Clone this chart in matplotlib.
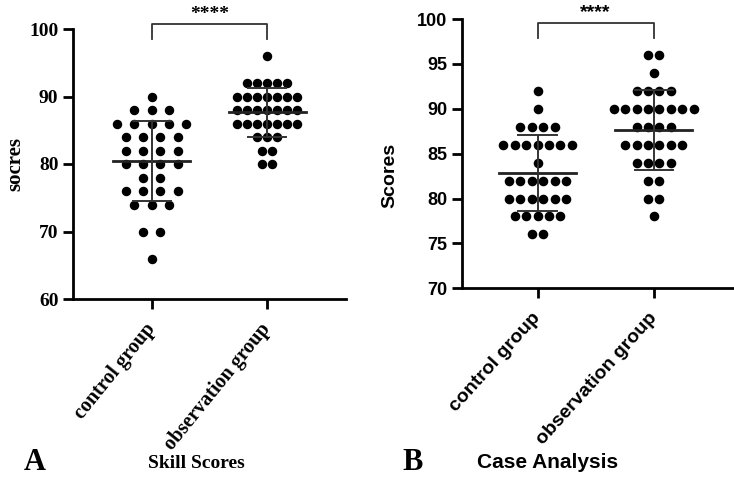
import matplotlib
matplotlib.use("Agg")
import matplotlib.pyplot as plt
import numpy as np

# Skill Scores (panel A)
skill_control = [90, 88, 88, 88, 86, 86, 86, 86, 86, 84, 84, 84, 84,
                 82, 82, 82, 82, 80, 80, 80, 80, 78, 78, 76, 76, 76, 76,
                 74, 74, 74, 70, 70, 66]
skill_observation = [96, 92, 92, 92, 92, 92, 90, 90, 90, 90, 90, 90, 90,
                     88, 88, 88, 88, 88, 88, 88, 86, 86, 86, 86, 86, 86, 86,
                     84, 84, 84, 82, 82, 80, 80]

# Case Analysis (panel B)
case_control = [92, 90, 88, 88, 88, 88, 86, 86, 86, 86, 86, 86, 86, 84,
                82, 82, 82, 82, 82, 82, 80, 80, 80, 80, 80, 80,
                78, 78, 78, 78, 78, 76, 76]
case_observation = [96, 96, 94, 92, 92, 92, 92, 90, 90, 90, 90, 90, 90, 90, 90,
                    88, 88, 88, 88, 86, 86, 86, 86, 86, 86, 84, 84, 84, 84,
                    82, 82, 80, 80, 78]

groups = ["control group", "observation group"]

SERIF = ["Liberation Serif", "DejaVu Serif"]
SANS = ["Liberation Sans", "DejaVu Sans"]


def swarm(ax, xc, values, step, ms):
    values = np.asarray(values)
    for v in np.unique(values):
        n = int(np.sum(values == v))
        xs = xc + (np.arange(n) - (n - 1) / 2) * step
        ax.plot(xs, [v] * n, "o", color="black", ms=ms, mec="black", zorder=2)
    m = values.mean()
    sd = values.std(ddof=1)
    ax.plot([xc - 0.33, xc + 0.33], [m, m], color="#222222", lw=2.0, zorder=3)
    ax.plot([xc, xc], [m - sd, m + sd], color="#333333", lw=1.4, zorder=3)
    for y in (m - sd, m + sd):
        ax.plot([xc - 0.165, xc + 0.165], [y, y], color="#333333", lw=1.4, zorder=3)


def style_axes(ax, fam, ylim, yticks, ylabel, xlim, ysize, xsize, lsize, rot):
    ax.set_xlim(*xlim)
    ax.set_ylim(*ylim)
    ax.set_yticks(yticks)
    ax.set_xticks([0, 1])
    for s in ("top", "right"):
        ax.spines[s].set_visible(False)
    for s in ("left", "bottom"):
        ax.spines[s].set_linewidth(2.0)
    ax.tick_params(width=2.0, length=7, direction="out")
    for lab in ax.get_yticklabels():
        lab.set_family(fam)
        lab.set_fontweight("bold")
        lab.set_fontsize(ysize)
    ax.set_xticklabels(groups, rotation=rot, ha="right", va="center",
                       rotation_mode="anchor", family=fam, fontweight="bold",
                       fontsize=xsize)
    ax.tick_params(axis="x", pad=12)
    ax.set_ylabel(ylabel, family=fam, fontweight="bold", fontsize=lsize)


def bracket(ax, y_top, y_leg, fam):
    ax.plot([0, 0, 1, 1], [y_leg, y_top, y_top, y_leg], color="#333333",
            lw=1.3, clip_on=False)
    ax.annotate("****", xy=(0.5, y_top), xytext=(0, 1), textcoords="offset points",
                ha="center", va="bottom", family=fam, fontweight="bold",
                fontsize=14, annotation_clip=False)


fig = plt.figure(figsize=(7.34, 4.84), dpi=100)

# Panel A
axA = fig.add_axes([73 / 734, (484 - 299) / 484, 273 / 734, 270 / 484])
swarm(axA, 0, skill_control, 0.149, 5.8)
swarm(axA, 1, skill_observation, 0.086, 5.8)
style_axes(axA, SERIF, (60, 100), [60, 70, 80, 90, 100], "socres", (-0.68, 1.68),
           14, 14.5, 15, 51)
axA.yaxis.set_label_coords(-0.175, 0.5)
bracket(axA, 100.75, 98.5, SERIF)

# Panel B
axB = fig.add_axes([462 / 734, (484 - 288.3) / 484, 272 / 734, 269.3 / 484])
swarm(axB, 0, case_control, 0.098, 5.9)
swarm(axB, 1, case_observation, 0.098, 5.9)
style_axes(axB, SANS, (70, 100), [70, 75, 80, 85, 90, 95, 100], "Scores", (-0.65, 1.69),
           13, 14, 14, 48)
axB.yaxis.set_label_coords(-0.235, 0.42)
bracket(axB, 99.6, 97.85, SANS)

fig.text(35 / 734, 1 - 462 / 484, "A", family=SERIF, fontweight="bold",
         fontsize=22, ha="center", va="center")
fig.text(196 / 734, 1 - 463 / 484, "Skill Scores", family=SERIF, fontweight="bold",
         fontsize=14, ha="center", va="center")
fig.text(413 / 734, 1 - 462 / 484, "B", family=SERIF, fontweight="bold",
         fontsize=22, ha="center", va="center")
fig.text(548 / 734, 1 - 463 / 484, "Case Analysis", family=SANS, fontweight="bold",
         fontsize=15, ha="center", va="center")

fig.savefig("out.png", dpi=100)
